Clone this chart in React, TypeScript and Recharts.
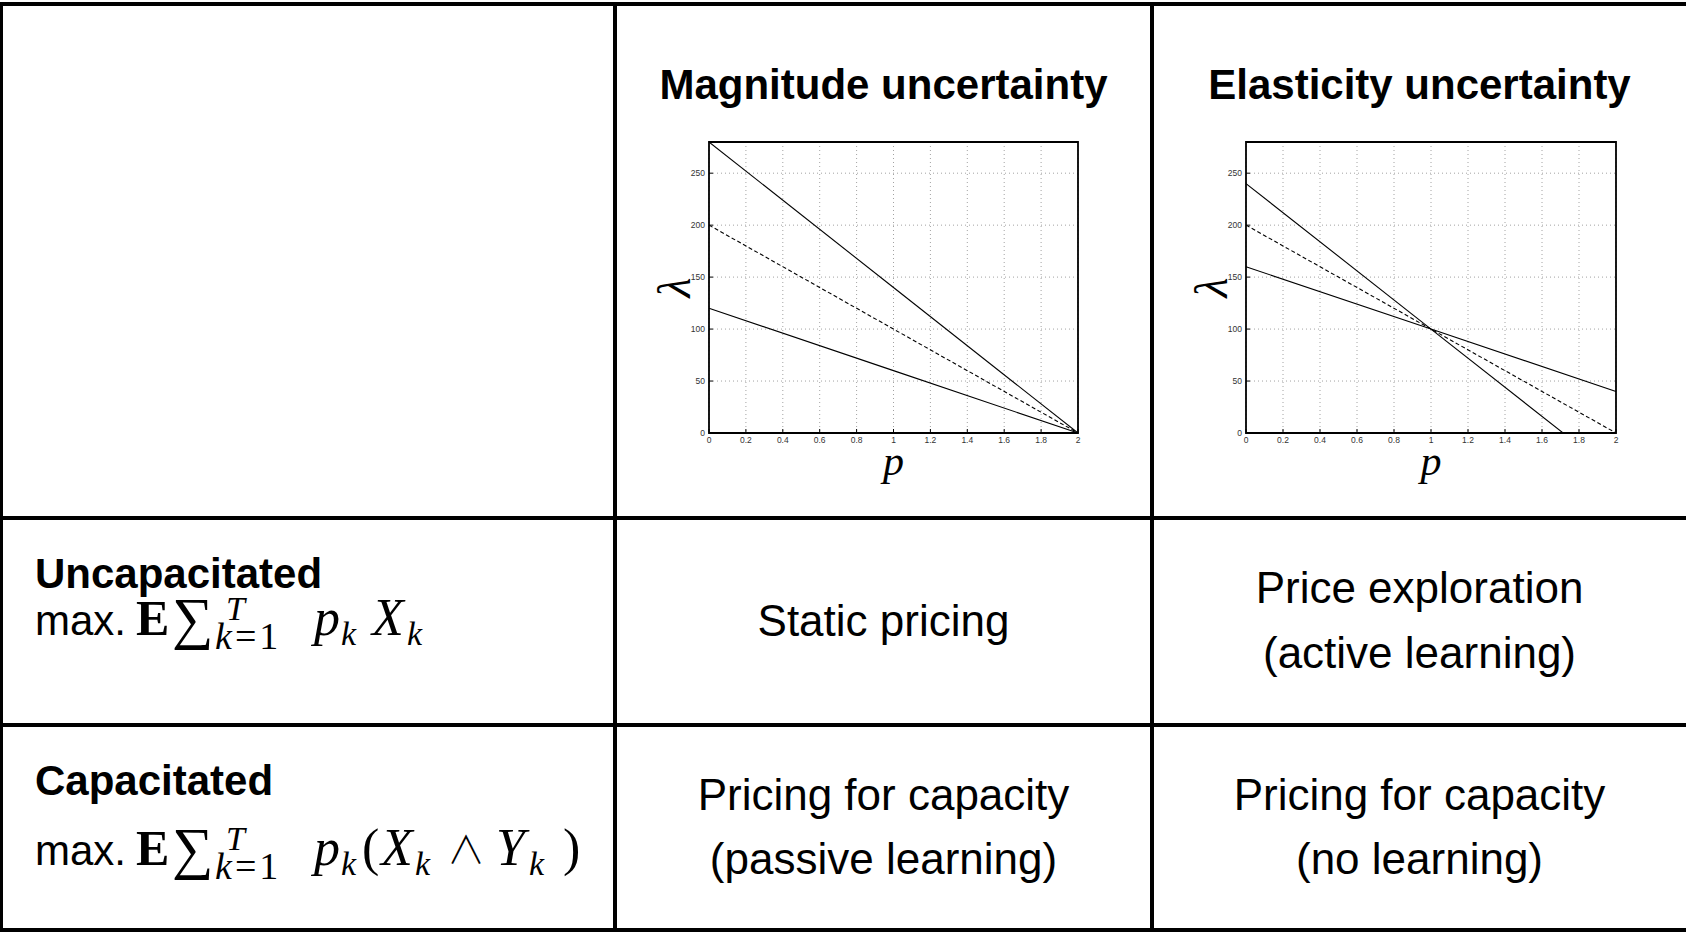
import React from "react";
import {
  LineChart,
  Line,
  XAxis,
  YAxis,
  CartesianGrid,
  ReferenceArea,
  Label,
} from "recharts";

// demand curves lambda(p), read at p = 0, 1, 2
const priceGrid = [0, 1, 2];
const magnitudeHigh = [280, 140, 0];
const magnitudeMean = [200, 100, 0];
const magnitudeLow = [120, 60, 0];
const elasticitySteep = [240, 100, -40];
const elasticityMean = [200, 100, 0];
const elasticityFlat = [160, 100, 40];

const priceTicks = [0, 0.2, 0.4, 0.6, 0.8, 1, 1.2, 1.4, 1.6, 1.8, 2];
const rateTicks = [0, 50, 100, 150, 200, 250];
const rateMax = 280;

const columnTitles = ["Magnitude uncertainty", "Elasticity uncertainty"];
const rowTitles = ["Uncapacitated", "Capacitated"];
const cellLines = [
  [["Static pricing"], ["Price exploration", "(active learning)"]],
  [
    ["Pricing for capacity", "(passive learning)"],
    ["Pricing for capacity", "(no learning)"],
  ],
];

const SANS = "'Liberation Sans', Arial, sans-serif";
const SERIF = "'Liberation Serif', 'DejaVu Serif', serif";

const colCenters = [883.5, 1419.5];
const rowCenters = [621.5, 828];
const formulaBaselines = [635, 865];
const titleBaselines = [588, 795];

const tickStyle = { fontSize: 8.5, fill: "#333", fontFamily: SANS };

interface ChartProps {
  high: number[];
  mean: number[];
  low: number[];
  left: number;
  marginLeft: number;
  marginRight: number;
}

function DemandChart({ high, mean, low, left, marginLeft, marginRight }: ChartProps) {
  const data = priceGrid.map((p, i) => ({
    p,
    high: high[i],
    mean: mean[i],
    low: low[i],
  }));

  return (
    <div style={{ position: "absolute", left, top: 120, width: 460, height: 380 }}>
      <LineChart
        width={460}
        height={380}
        data={data}
        margin={{ top: 22, right: marginRight, bottom: 55, left: marginLeft }}
      >
        <CartesianGrid stroke="#8a8a8a" strokeDasharray="1 3" strokeWidth={0.8} />
        <XAxis
          type="number"
          dataKey="p"
          domain={[0, 2]}
          ticks={priceTicks}
          tickFormatter={(v) => String(v)}
          height={12}
          axisLine={false}
          stroke="#000"
          tickSize={-4}
          tickMargin={8}
          tick={tickStyle}
        >
          <Label
            content={(props: any) => {
              const vb = props.viewBox;
              return (
                <text
                  x={vb.x + vb.width / 2}
                  y={vb.y + 42}
                  textAnchor="middle"
                  fontFamily={SERIF}
                  fontStyle="italic"
                  fontSize={42}
                >
                  p
                </text>
              );
            }}
          />
        </XAxis>
        <YAxis
          type="number"
          domain={[0, rateMax]}
          ticks={rateTicks}
          allowDataOverflow
          width={60}
          axisLine={false}
          stroke="#000"
          tickSize={-4}
          tickMargin={8}
          tick={tickStyle}
        >
          <Label
            content={(props: any) => {
              const vb = props.viewBox;
              const cx = vb.x + vb.width - 35;
              const cy = vb.y + vb.height / 2;
              return (
                <text
                  x={cx}
                  y={cy}
                  transform={`rotate(-90 ${cx} ${cy})`}
                  textAnchor="middle"
                  dominantBaseline="central"
                  fontFamily={SERIF}
                  fontStyle="italic"
                  fontSize={46}
                >
                  λ
                </text>
              );
            }}
          />
        </YAxis>
        <Line dataKey="high" stroke="#000" strokeWidth={1.1} dot={false} isAnimationActive={false} />
        <Line
          dataKey="mean"
          stroke="#000"
          strokeWidth={1.1}
          strokeDasharray="4 2.5"
          dot={false}
          isAnimationActive={false}
        />
        <Line dataKey="low" stroke="#000" strokeWidth={1.1} dot={false} isAnimationActive={false} />
        <ReferenceArea x1={0} x2={2} y1={0} y2={rateMax} fill="none" stroke="#000" strokeWidth={1.8} />
      </LineChart>
    </div>
  );
}

// max. E sum_{k=1}^T p_k X_k  (or p_k (X_k ∧ Y_k) when capacitated)
function Objective({ y, capacitated }: { y: number; capacitated: boolean }) {
  const it = { fontFamily: SERIF, fontStyle: "italic" as const };
  const rm = { fontFamily: SERIF, fontStyle: "normal" as const };
  return (
    <text y={y} fill="#000" fontSize={52}>
      <tspan x={35} y={y} fontFamily={SANS} fontSize={42}>
        max.
      </tspan>
      <tspan x={136} y={y} {...rm} fontWeight="bold" fontSize={50}>
        E
      </tspan>
      <tspan x={172} y={y + 3} {...rm} fontSize={58}>
        ∑
      </tspan>
      <tspan x={226} y={y - 15} {...it} fontSize={34}>
        T
      </tspan>
      <tspan x={215} y={y + 14} {...it} fontSize={38}>
        k
      </tspan>
      <tspan dx={3} {...rm} fontSize={38}>
        =
      </tspan>
      <tspan dx={3} {...rm} fontSize={38}>
        1
      </tspan>
      <tspan x={314} y={y} {...it}>
        p
      </tspan>
      <tspan x={341} y={y + 10} {...it} fontSize={34}>
        k
      </tspan>
      {capacitated ? (
        <>
          <tspan x={362} y={y} {...rm}>
            (
          </tspan>
          <tspan x={381} y={y} {...it}>
            X
          </tspan>
          <tspan x={415} y={y + 10} {...it} fontSize={34}>
            k
          </tspan>
          <tspan
            x={447}
            y={y - 2}
            fontFamily="'Noto Sans CJK SC', 'DejaVu Sans', sans-serif"
            fontStyle="normal"
            fontWeight={300}
            fontSize={38}
          >
            ∧
          </tspan>
          <tspan x={496} y={y} {...it}>
            Y
          </tspan>
          <tspan x={529} y={y + 10} {...it} fontSize={34}>
            k
          </tspan>
          <tspan x={563} y={y} {...rm}>
            )
          </tspan>
        </>
      ) : (
        <>
          <tspan x={372} y={y} {...it}>
            X
          </tspan>
          <tspan x={407} y={y + 10} {...it} fontSize={34}>
            k
          </tspan>
        </>
      )}
    </text>
  );
}

const border = (left: number, top: number, width: number, height: number) => (
  <div style={{ position: "absolute", left, top, width, height, background: "#000" }} />
);

export default function App() {
  return (
    <div
      style={{
        position: "absolute",
        left: 0,
        top: 0,
        width: 1686,
        height: 932,
        background: "#fff",
        overflow: "hidden",
      }}
    >
      <svg width={1686} height={932} style={{ position: "absolute", left: 0, top: 0 }}>
        {columnTitles.map((t, i) => (
          <text
            key={t}
            x={colCenters[i]}
            y={99}
            textAnchor="middle"
            fontFamily={SANS}
            fontWeight="bold"
            fontSize={42}
          >
            {t}
          </text>
        ))}
        {rowTitles.map((t, r) => (
          <text key={t} x={35} y={titleBaselines[r]} fontFamily={SANS} fontWeight="bold" fontSize={42}>
            {t}
          </text>
        ))}
        {rowTitles.map((t, r) => (
          <Objective key={t + "obj"} y={formulaBaselines[r]} capacitated={r === 1} />
        ))}
        {cellLines.map((row, r) =>
          row.map((lines, c) =>
            lines.map((line, k) => (
              <text
                key={`${r}-${c}-${k}`}
                x={colCenters[c]}
                y={rowCenters[r] + 14 + (k - (lines.length - 1) / 2) * 64.5}
                textAnchor="middle"
                fontFamily={SANS}
                fontSize={44}
              >
                {line}
              </text>
            ))
          )
        )}
      </svg>

      <DemandChart
        high={magnitudeHigh}
        mean={magnitudeMean}
        low={magnitudeLow}
        left={640}
        marginLeft={9}
        marginRight={22}
      />
      <DemandChart
        high={elasticitySteep}
        mean={elasticityMean}
        low={elasticityFlat}
        left={1180}
        marginLeft={6}
        marginRight={24}
      />

      {border(0, 2, 1686, 4)}
      {border(0, 2, 3, 930)}
      {border(613, 2, 4, 930)}
      {border(1150, 2, 4, 930)}
      {border(0, 516, 1686, 4)}
      {border(0, 723, 1686, 4)}
      {border(0, 928, 1686, 4)}
    </div>
  );
}
